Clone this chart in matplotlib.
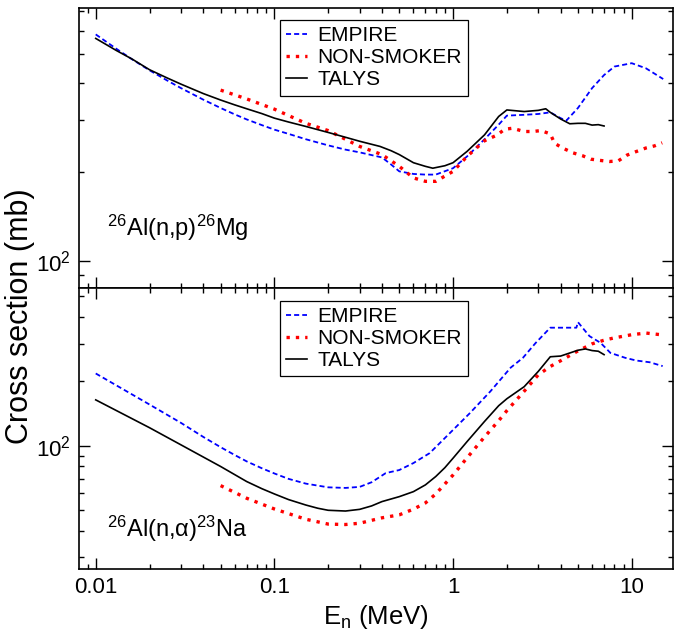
import matplotlib
matplotlib.use("Agg")
import matplotlib.pyplot as plt
from matplotlib import font_manager
from matplotlib.ticker import NullFormatter, LogLocator

# ----------------------------
# data
# ----------------------------
# 26Al(n,p)26Mg
np_talys_E = [0.01, 0.013, 0.016, 0.02, 0.025, 0.03, 0.04, 0.05, 0.06, 0.07, 0.085, 0.1,
              0.12, 0.15, 0.2, 0.25, 0.3, 0.39, 0.45, 0.5, 0.6, 0.7, 0.77,
              0.9, 1.0, 1.2, 1.5, 1.8, 2.0, 2.5, 3.0, 3.3, 3.5, 4.0, 4.5, 5.0, 5.5, 6.0, 6.5, 7.0]
np_talys = [565, 515, 481, 443, 416, 396, 368, 350, 337, 327, 315, 304,
            295, 285, 272, 262, 254, 244, 236, 229, 215, 209, 206,
            210, 215, 235, 267, 308, 324, 320, 323, 327, 318, 302, 291, 292, 292, 288, 289, 286]

np_empire_E = [0.01, 0.013, 0.016, 0.02, 0.025, 0.03, 0.04, 0.05, 0.06, 0.07, 0.085, 0.1,
               0.12, 0.15, 0.2, 0.25, 0.3, 0.4, 0.45, 0.5, 0.6, 0.7, 0.8,
               1.0, 1.2, 1.5, 1.8, 2.0, 2.5, 3.0, 3.5, 4.0, 4.3, 5.0, 6.0, 7.0, 8.0,
               10.0, 12.0, 15.0]
np_empire = [583, 522, 480, 441, 408, 384, 351, 329, 313, 301, 288, 278,
             269, 258, 246, 238, 233, 224, 212, 201, 197, 196, 196,
             206, 226, 258, 289, 310, 312, 314, 318, 304, 298, 329, 384, 425, 454,
             466, 448, 412]

np_nonsmoker_E = [0.05, 0.07, 0.1, 0.15, 0.2, 0.3, 0.4, 0.5, 0.6, 0.7, 0.8, 1.0, 1.2, 1.5,
                  1.75, 1.95, 2.15, 2.5, 2.8, 3.1, 3.5, 3.7, 4.1, 4.7, 5.3, 5.9, 6.6, 7.5,
                  8.4, 9.4, 10.5, 12.0, 13.4, 14.8]
np_nonsmoker = [378, 353, 326, 292, 276, 244, 229, 209, 191, 186, 186, 201, 226, 255,
                266, 279, 281, 274, 274, 276, 269, 250, 241, 232, 227, 221, 219, 217,
                218, 228, 234, 241, 245, 251]

# 26Al(n,a)23Na
na_talys_E = [0.01, 0.02, 0.03, 0.05, 0.07, 0.085, 0.1, 0.12, 0.15, 0.175, 0.2, 0.25, 0.3,
              0.35, 0.4, 0.5, 0.6, 0.7, 0.8, 0.9, 1.0, 1.2, 1.5, 1.8, 2.0, 2.5, 3.0, 3.5,
              4.0, 5.0, 5.5, 6.0, 6.5, 7.0]
na_talys = [164, 121.5, 101, 80, 68, 63, 59.5, 56, 52.8, 51, 49.9, 49.5, 50.4,
            52.3, 54.8, 57.8, 61.0, 65.6, 71.8, 79, 87.5, 104.8, 130, 154, 166, 189, 223, 261,
            263, 280, 284, 279, 277, 267]

na_empire_E = [0.01, 0.02, 0.03, 0.04, 0.05, 0.06, 0.07, 0.085, 0.1, 0.12, 0.15, 0.2, 0.25,
               0.3, 0.35, 0.42, 0.5, 0.6, 0.74, 0.96, 1.24, 1.62, 2.1, 2.46, 2.9, 3.5, 4.9,
               5.0, 5.3, 5.8, 6.7, 7.6, 9.2, 10.6, 12.6, 14.9]
na_empire = [218, 156, 128, 110, 98.5, 90.5, 84.5, 78.5, 74.2, 70, 66.5, 63.9, 63.5,
             64.2, 67.5, 74.5, 77, 83, 92.4, 114.7, 142, 180, 232, 258, 303, 357, 357,
             379, 357, 326, 303, 272, 258, 250.6, 246, 236]

na_nonsmoker_E = [0.05, 0.07, 0.1, 0.15, 0.2, 0.25, 0.3, 0.4, 0.5, 0.6, 0.7, 0.8, 1.0, 1.2,
                  1.5, 1.8, 2.0, 2.5, 3.0, 3.5, 4.0, 5.0, 6.0, 7.0, 8.0, 10.0, 12.0, 15.0]
na_nonsmoker = [65.1, 56.8, 50.6, 45.3, 43.0, 42.8, 43.4, 46.0, 47.5, 50.5, 54, 59.5, 73, 88,
                110, 131, 146, 180, 215, 235, 250, 278, 300, 312, 320, 331, 337, 330]

labels = ["EMPIRE", "NON-SMOKER", "TALYS"]
x_ticks = [0.01, 0.1, 1, 10]
x_ticklabels = ["0.01", "0.1", "1", "10"]

# ----------------------------
# style
# ----------------------------
names = {f.name for f in font_manager.fontManager.ttflist}
fam = "Liberation Sans Narrow" if "Liberation Sans Narrow" in names else "Liberation Sans"
plt.rcParams["font.family"] = [fam, "DejaVu Sans"]
plt.rcParams["mathtext.fontset"] = "custom"
plt.rcParams["mathtext.rm"] = fam
plt.rcParams["mathtext.it"] = fam + ":italic"
plt.rcParams["mathtext.bf"] = fam + ":bold"

fig = plt.figure(figsize=(6.78, 6.33), dpi=100)
ax1 = fig.add_axes([0.1165, 0.5446, 0.876, 0.4434])
ax2 = fig.add_axes([0.1165, 0.1011, 0.876, 0.4435], sharex=ax1)


def draw(ax, emp_E, emp, ns_E, ns, tal_E, tal):
    ax.plot(emp_E, emp, color="#0000ff", lw=1.3, dashes=(2.8, 1.7), label=labels[0])
    ax.plot(ns_E, ns, color="#ff0000", lw=2.4, dashes=(1, 1.8), label=labels[1])
    ax.plot(tal_E, tal, color="black", lw=1.2, label=labels[2])
    ax.set_xscale("log")
    ax.set_yscale("log")
    ax.yaxis.set_minor_locator(LogLocator(base=10, subs=range(2, 10)))
    ax.yaxis.set_minor_formatter(NullFormatter())
    ax.tick_params(which="both", direction="in", top=True, right=True, width=1.0,
                   labelsize=16)
    ax.tick_params(which="major", length=8, pad=6)
    ax.tick_params(which="minor", length=3.5)
    for s in ax.spines.values():
        s.set_linewidth(1.2)
    leg = ax.legend(loc="upper left", bbox_to_anchor=(0.338, 0.956), borderaxespad=0,
                    fontsize=15, handlelength=1.0, handletextpad=0.5, borderpad=0.3,
                    labelspacing=0.15, fancybox=False, framealpha=1, edgecolor="black")
    leg.get_frame().set_linewidth(0.9)


draw(ax1, np_empire_E, np_empire, np_nonsmoker_E, np_nonsmoker, np_talys_E, np_talys)
draw(ax2, na_empire_E, na_empire, na_nonsmoker_E, na_nonsmoker, na_talys_E, na_talys)

ax1.set_ylim(81, 718)
ax2.set_ylim(26.5, 546)
ax2.set_xlim(0.00806, 17.0)
ax2.set_xticks(x_ticks, labels=x_ticklabels)
ax2.xaxis.set_minor_formatter(NullFormatter())
plt.setp(ax1.get_xticklabels(), visible=False)

ax1.text(0.047, 0.185, r"$\mathregular{^{26}Al(n{,}p)^{26}Mg}$", transform=ax1.transAxes,
         fontsize=17, va="baseline")
ax2.text(0.047, 0.114, r"$\mathregular{^{26}Al(n{,}\alpha)^{23}Na}$",
         transform=ax2.transAxes, fontsize=17, va="baseline")

ax2.set_xlabel(r"$\mathregular{E_n}$ (MeV)", fontsize=18.5, labelpad=3)
fig.text(20 / 678, 0.5, "Cross section (mb)", rotation=90, ha="center", va="center",
         fontsize=22)

fig.savefig("out.png", dpi=100)
